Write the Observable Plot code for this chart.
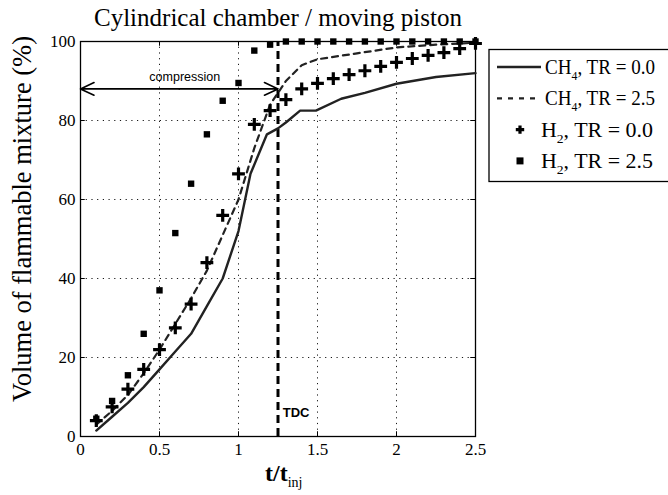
<!DOCTYPE html>
<html><head><meta charset="utf-8">
<script src="https://cdn.jsdelivr.net/npm/d3@7"></script>
<script src="https://cdn.jsdelivr.net/npm/@observablehq/plot@0.6"></script>
<style>
body{margin:0;background:#fff;}
#chart{width:668px;height:495px;overflow:hidden;}
</style>
</head><body><div id="chart"></div>
<script>
// ---- data ----
const ch4Tr00T = [0.1,0.2,0.3,0.4,0.5,0.6,0.7,0.8,0.9,1.0,1.076,1.18,1.25,1.3,1.39,1.49,1.65,1.8,2.0,2.25,2.5];
const ch4Tr00V = [1.5,5,8.5,12.5,17,21.5,26,33,40,52,66.5,76.5,78,79.5,82.5,82.5,85.5,87,89.3,91,92];
const ch4Tr25T = [0.1,0.2,0.3,0.4,0.5,0.6,0.7,0.8,0.9,1.0,1.1,1.2,1.25,1.3,1.4,1.5,1.75,2.0,2.25,2.5];
const ch4Tr25V = [3,6.5,10.5,16,22,28.5,35,42,51,60,73,84,87,90,94,95.5,97,98.5,99.2,99.7];
const h2T = [0.1,0.2,0.3,0.4,0.5,0.6,0.7,0.8,0.9,1.0,1.1,1.2,1.3,1.4,1.5,1.6,1.7,1.8,1.9,2.0,2.1,2.2,2.3,2.4,2.5];
const h2Tr00V = [4,7.5,12,17,22,27.5,33.5,44,56,66.5,79,82.5,85.3,88,89.4,90.6,91.6,92.6,93.7,94.7,95.7,96.5,97.2,98.2,99.5];
const h2Tr25V = [4.5,9,15.5,26,37,51.5,64,76.5,85,89.5,97.7,99.2,100,100,100,100,100,100,100,100,100,100,100,100,100];
const xTicks = [0,0.5,1,1.5,2,2.5];
const xTickLabels = ["0","0.5","1","1.5","2","2.5"];
const yTicks = [0,20,40,60,80,100];
const tdcT = 1.25;
const tdcLabel = "TDC";
const compressionY = 88;
const compressionMid = [0.625];
const compressionEnds = [0, 1.25];
const compressionLabel = "compression";
const compressionLabelPos = {t: 0.66, v: 91};
const tdcLabelPos = {t: 1.28, v: 6};
const titleText = "Cylindrical chamber / moving piston";
const yLabel = "Volume of flammable mixture (%)";

const serif = "'Liberation Serif','Times New Roman',serif";
const sans = "'Liberation Sans',Arial,sans-serif";

const toRows = (T, V) => T.map((t,i)=>({t, v:V[i]}));
const ch4a = toRows(ch4Tr00T, ch4Tr00V);
const ch4b = toRows(ch4Tr25T, ch4Tr25V);
const h2a = toRows(h2T, h2Tr00V);
const h2b = toRows(h2T, h2Tr25V);

const chart = Plot.plot({
  width: 668, height: 495,
  marginTop: 41, marginLeft: 80, marginRight: 193, marginBottom: 59,
  style: {fontFamily: serif, background: "#fff", color: "#000"},
  x: {domain: [0, 2.5]},
  y: {domain: [0, 100]},
  marks: [
    Plot.gridX(xTicks.slice(1,-1), {stroke: "#000", strokeOpacity: 0.9, strokeDasharray: "1.2,4.5", strokeWidth: 1}),
    Plot.gridY(yTicks.slice(1,-1), {stroke: "#000", strokeOpacity: 0.9, strokeDasharray: "1.2,4.5", strokeWidth: 1}),
    // inward ticks
    Plot.ruleX(xTicks, {y1: 0, y2: 1.2, stroke: "#000"}),
    Plot.ruleX(xTicks, {y1: 98.8, y2: 100, stroke: "#000"}),
    Plot.ruleY(yTicks, {x1: 0, x2: 0.03, stroke: "#000"}),
    Plot.ruleY(yTicks, {x1: 2.47, x2: 2.5, stroke: "#000"}),
    Plot.axisX(xTicks, {tickSize: 0, tickPadding: 6, fontSize: 17, tickFormat: (d,i)=>xTickLabels[i], label: null}),
    Plot.axisY(yTicks, {tickSize: 0, tickPadding: 5, fontSize: 17, label: null}),
    Plot.frame({stroke: "#000", strokeWidth: 1.3}),
    // TDC
    Plot.ruleX([tdcT], {y1: 0, y2: 100, stroke: "#000", strokeWidth: 3, strokeDasharray: "8,5"}),
    Plot.text([tdcLabel], {x: tdcLabelPos.t, y: tdcLabelPos.v, text: d=>d, textAnchor: "start", fontFamily: sans, fontWeight: "bold", fontSize: 13}),
    // compression arrow
    Plot.arrow(compressionEnds, {x1: compressionMid[0], y1: compressionY, x2: d=>d, y2: compressionY, stroke: "#000", strokeWidth: 1.6, headLength: 14, headAngle: 50, inset: 0}),
    Plot.text([compressionLabel], {x: compressionLabelPos.t, y: compressionLabelPos.v, text: d=>d, fontFamily: sans, fontSize: 12.5}),
    // series
    Plot.line(ch4a, {x: "t", y: "v", stroke: "#222", strokeWidth: 2.4}),
    Plot.line(ch4b, {x: "t", y: "v", stroke: "#222", strokeWidth: 2.2, strokeDasharray: "6,5"}),
    Plot.dot(h2a, {x: "t", y: "v", symbol: "plus", r: 4.2, stroke: "#000", strokeWidth: 3.2}),
    Plot.dot(h2b, {x: "t", y: "v", symbol: "square", r: 3.6, fill: "#000", stroke: "none"}),
    // title
    Plot.text([titleText], {frameAnchor: "top", lineAnchor: "middle", dy: -24, text: d=>d, fontSize: 25, fontFamily: serif}),
  ]
});

const svg = d3.select(chart);
// y label
svg.append("text").attr("transform", "translate(25,219) rotate(-90)")
  .attr("text-anchor", "middle").attr("dominant-baseline","middle")
  .style("font-family", serif).style("font-size", "26.5px").text(yLabel);
// x label t/t_inj
const xl = svg.append("text").attr("x", 265).attr("y", 481).attr("text-anchor","start")
  .style("font-family", serif).style("font-size", "24px").style("font-weight","bold");
xl.append("tspan").text("t/t");
xl.append("tspan").attr("dy", 6).style("font-size","14px").style("font-weight","normal").text("inj");

// legend
const lg = svg.append("g");
lg.append("rect").attr("x", 489).attr("y", 49.5).attr("width", 200).attr("height", 132)
  .attr("fill", "#fff").attr("stroke", "#000").attr("stroke-width", 1.3);
const rows = [
  {kind:"solid", base:"CH", sub:"4", rest:", TR = 0.0"},
  {kind:"dash", base:"CH", sub:"4", rest:", TR = 2.5"},
  {kind:"plus", base:"H", sub:"2", rest:", TR = 0.0"},
  {kind:"square", base:"H", sub:"2", rest:", TR = 2.5"}
];
rows.forEach((r, i) => {
  const y = 67 + i * 31.3;
  const isLine = r.kind==="solid"||r.kind==="dash";
  if (r.kind === "solid") lg.append("line").attr("x1",497).attr("x2",541).attr("y1",y).attr("y2",y).attr("stroke","#222").attr("stroke-width",2.4);
  if (r.kind === "dash") lg.append("line").attr("x1",497).attr("x2",541).attr("y1",y).attr("y2",y).attr("stroke","#222").attr("stroke-width",2.2).attr("stroke-dasharray","5,6");
  if (r.kind === "plus") lg.append("path").attr("d",`M${520-4.2},${y}h8.4M520,${y-4.2}v8.4`).attr("stroke","#000").attr("stroke-width",3.2);
  if (r.kind === "square") lg.append("rect").attr("x",516.5).attr("y",y-3.5).attr("width",7).attr("height",7).attr("fill","#000");
  const t = lg.append("text").attr("x", isLine ? 545 : 541).attr("y", y + 7)
    .attr("text-anchor","start")
    .attr("textLength", isLine ? 110 : 112).attr("lengthAdjust","spacingAndGlyphs")
    .style("font-family", serif).style("font-size","21px");
  t.append("tspan").text(r.base);
  t.append("tspan").attr("dy", 6).style("font-size","13px").text(r.sub);
  t.append("tspan").attr("dy", -6).text(r.rest);
});

document.getElementById("chart").appendChild(chart);
</script>
</body></html>
